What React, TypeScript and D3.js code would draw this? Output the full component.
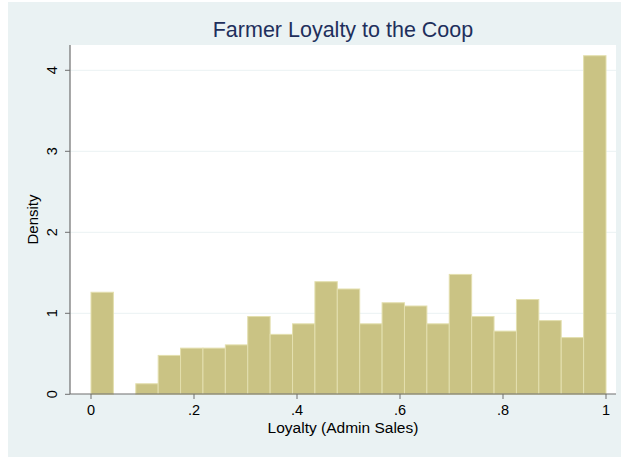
import React from "react";
import * as d3 from "d3";

const binStart = 0;
const binEnd = 1;
const densities = [1.26, 0, 0.13, 0.48, 0.57, 0.57, 0.61, 0.96, 0.74, 0.87, 1.39, 1.3, 0.87, 1.13, 1.09, 0.87, 1.48, 0.96, 0.78, 1.17, 0.91, 0.7, 4.18];
const xTicks = [0, 0.2, 0.4, 0.6, 0.8, 1];
const xTickLabels = ["0", ".2", ".4", ".6", ".8", "1"];
const yTicks = [0, 1, 2, 3, 4];
const title = "Farmer Loyalty to the Coop";
const xLabel = "Loyalty (Admin Sales)";
const yLabel = "Density";

export default function App() {
  const W = 621, H = 458;
  const plot = { left: 70, right: 616, top: 45, bottom: 394 };
  const x = d3.scaleLinear().domain([0, 1]).range([91, 606]);
  const y = d3.scaleLinear().domain([0, 4]).range([394.3, 70.3]);
  const n = densities.length;
  const w = (binEnd - binStart) / n;
  const font = "'Liberation Sans', Arial, sans-serif";
  return (
    <svg width={W} height={H} style={{ position: "absolute", left: 0, top: 0 }}>
      <rect x={0} y={0} width={W} height={H} fill="#ffffff" />
      <rect x={8} y={2} width={613} height={455} fill="#eaf2f3" />
      <rect x={plot.left} y={plot.top} width={plot.right - plot.left} height={plot.bottom - plot.top} fill="#ffffff" />
      {yTicks.filter(t => t > 0).map(t => (
        <line key={t} x1={plot.left} x2={plot.right} y1={y(t)} y2={y(t)} stroke="#eaf2f3" strokeWidth={1} />
      ))}
      {densities.map((d, i) => {
        if (d <= 0) return null;
        const x0 = x(binStart + i * w);
        const x1 = x(binStart + (i + 1) * w);
        return (
          <rect key={i} x={x0} y={y(d)} width={x1 - x0} height={y(0) - y(d)}
            fill="#cac384" stroke="#e3dfae" strokeWidth={1} />
        );
      })}
      <line x1={plot.left} x2={plot.left} y1={plot.top} y2={plot.bottom} stroke="#6e6e6e" strokeWidth={1.2} />
      <line x1={plot.left} x2={plot.right} y1={plot.bottom} y2={plot.bottom} stroke="#6e6e6e" strokeWidth={1.2} />
      {xTicks.map((t, i) => (
        <g key={t}>
          <line x1={x(t)} x2={x(t)} y1={plot.bottom} y2={plot.bottom + 5} stroke="#6e6e6e" strokeWidth={1} />
          <text x={x(t)} y={415} textAnchor="middle" fontFamily={font} fontSize={14.5} fill="#000">{xTickLabels[i]}</text>
        </g>
      ))}
      {yTicks.map(t => (
        <g key={t}>
          <line x1={plot.left - 5} x2={plot.left} y1={y(t)} y2={y(t)} stroke="#6e6e6e" strokeWidth={1} />
          <text transform={`translate(57,${y(t)}) rotate(-90)`} textAnchor="middle" fontFamily={font} fontSize={14.5} fill="#000">{t}</text>
        </g>
      ))}
      <text x={(plot.left + plot.right) / 2} y={433} textAnchor="middle" fontFamily={font} fontSize={15.5} fill="#000">{xLabel}</text>
      <text transform={`translate(38,${(plot.top + plot.bottom) / 2}) rotate(-90)`} textAnchor="middle" fontFamily={font} fontSize={15} fill="#000">{yLabel}</text>
      <text x={(plot.left + plot.right) / 2} y={37} textAnchor="middle" fontFamily={font} fontSize={21.5} fill="#1e2f5c">{title}</text>
    </svg>
  );
}
